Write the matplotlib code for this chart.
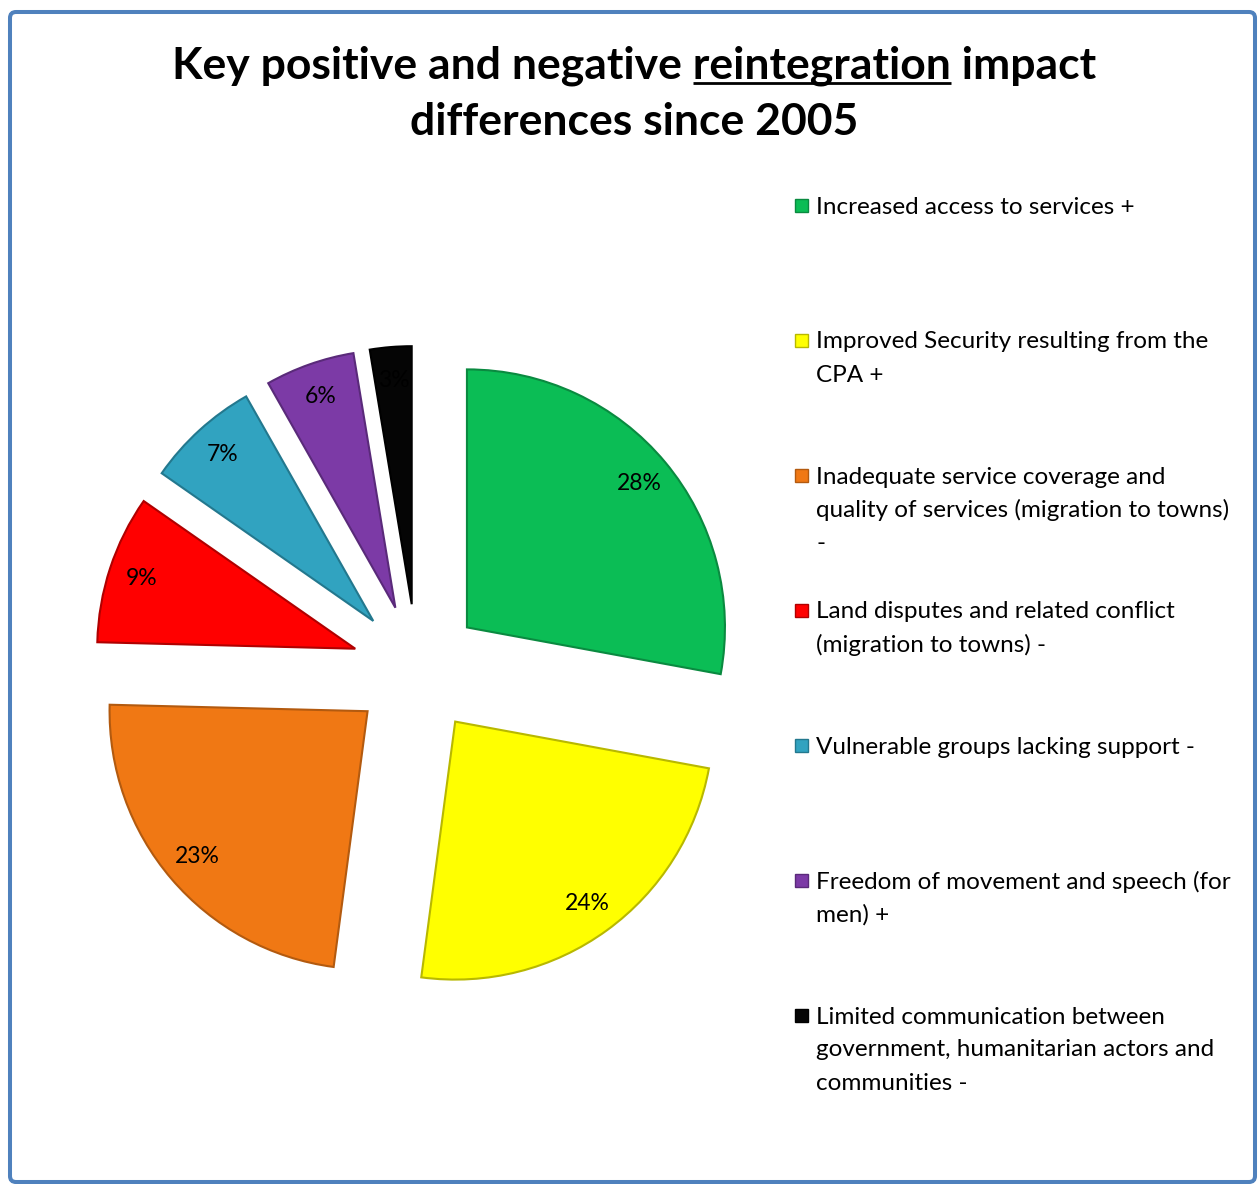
import matplotlib.pyplot as plt
from matplotlib.patches import FancyBboxPatch, Rectangle

# chart data (shares; labels show them rounded)
categories = [
    "Increased access to services +",
    "Improved Security resulting from the\nCPA +",
    "Inadequate service coverage and\nquality of services (migration to towns)\n-",
    "Land disputes and related conflict\n(migration to towns) -",
    "Vulnerable groups lacking support -",
    "Freedom of movement and speech (for\nmen) +",
    "Limited communication between\ngovernment, humanitarian actors and\ncommunities -",
]
shares = [27.9, 24.2, 23.3, 9.3, 7.1, 5.6, 2.6]
colors = ["#0BBD55", "#FFFF00", "#F07814", "#FF0000", "#31A3C0", "#7C3AA6", "#050505"]
edges = ["#0A8A40", "#B8B800", "#B35A0F", "#B00000", "#23788E", "#5A2A7A", "#000000"]

W, H = 1258, 1184
FONT = "Lato"

fig = plt.figure(figsize=(W / 100, H / 100), dpi=100)
ax = fig.add_axes([0, 0, 1, 1])

# frame round the chart
frame = FancyBboxPatch((10, 2), 1245, 1170, boxstyle="round,pad=0,rounding_size=6",
                       fc="white", ec="#4F81BD", lw=2.9, zorder=0)
ax.add_patch(frame)

# explode is an absolute offset here, since radius is in pixels
wedges, texts, autotexts = ax.pie(
    shares,
    colors=colors,
    explode=[65] * len(shares),
    startangle=90,
    counterclock=False,
    radius=258,
    center=(417, H - 669),
    autopct=lambda p: f"{p:.0f}%",
    pctdistance=0.87,
    wedgeprops=dict(linewidth=1.5),
    textprops=dict(fontsize=16.5, family=FONT, color="black"),
    frame=True,
)
for w, ec in zip(wedges, edges):
    w.set_edgecolor(ec)
    w.set_zorder(2)
for t in autotexts:
    t.set_zorder(3)

ax.set_xlim(0, W)
ax.set_ylim(0, H)
ax.set_aspect("auto")
ax.axis("off")

# title, with the word "reintegration" underlined
title_size = 32
line1 = ["Key positive and negative ", "reintegration", " impact"]
renderer = fig.canvas.get_renderer()


def text_width(s):
    t = fig.text(0, 0, s + "|", fontsize=title_size, family=FONT, weight="bold")
    bar = fig.text(0, 0, "|", fontsize=title_size, family=FONT, weight="bold")
    w = t.get_window_extent(renderer).width - bar.get_window_extent(renderer).width
    t.remove()
    bar.remove()
    return w


full_w = text_width("".join(line1))
pre_w = text_width(line1[0])
word_w = text_width(line1[1])
x0 = 634 - full_w / 2
y1 = 78
fig.text(x0 / W, 1 - y1 / H, "".join(line1), fontsize=title_size, family=FONT,
         weight="bold", ha="left", va="baseline")
ax.plot([x0 + pre_w, x0 + pre_w + word_w], [H - y1 - 5, H - y1 - 5],
        color="black", lw=2, solid_capstyle="butt")
fig.text(634 / W, 1 - 135 / H, "differences since 2005", fontsize=title_size,
         family=FONT, weight="bold", ha="center", va="baseline")

# legend on the right
y_first = 205
step = 135
line_gap = 33
for i, (label, col, ec) in enumerate(zip(categories, colors, edges)):
    y = y_first + i * step
    ax.add_patch(Rectangle((795, H - y - 6.5), 13, 13, fc=col, ec=ec, lw=1, zorder=3))
    for k, part in enumerate(label.split("\n")):
        fig.text(816 / W, 1 - (y + k * line_gap) / H, part, fontsize=17.5,
                 family=FONT, ha="left", va="center_baseline")

fig.savefig("out.png", dpi=100)
